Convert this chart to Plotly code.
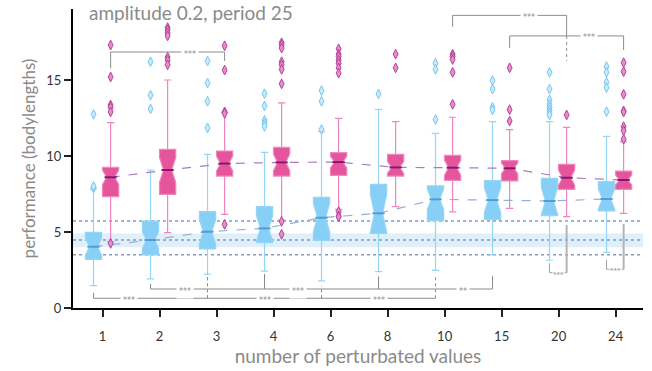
import plotly.graph_objects as go

categories = ["1", "2", "3", "4", "6", "8", "10", "15", "20", "24"]

# blue series (stats)
blue_q1 = [3.20, 3.49, 3.88, 4.30, 4.45, 4.91, 5.75, 5.83, 6.07, 6.38]
blue_med = [4.03, 4.47, 5.02, 5.24, 5.94, 6.23, 7.15, 7.10, 7.04, 7.17]
blue_q3 = [4.98, 5.72, 6.34, 6.67, 7.28, 8.13, 8.03, 8.38, 8.53, 8.31]
blue_lo = [1.47, 1.91, 2.22, 2.43, 1.78, 2.39, 2.48, 3.49, 3.14, 3.66]
blue_hi = [7.80, 9.08, 10.10, 10.24, 11.60, 13.07, 11.49, 12.26, 12.26, 11.29]
blue_notch = [0.58, 0.55, 0.80, 0.85, 0.95, 1.25, 0.68, 0.83, 0.90, 0.66]
blue_out = [
    [12.74, 7.95, 7.9, 8.0],
    [16.2, 14.0, 13.1],
    [16.25, 14.8, 13.6, 11.85],
    [14.1, 13.3, 12.35, 12.15, 11.95],
    [14.3, 13.6, 11.75],
    [14.08],
    [16.1, 15.7, 12.4],
    [14.96, 14.4, 13.2, 13.03],
    [15.5, 14.4, 13.7, 13.4, 13.2, 13.0, 12.85, 12.7],
    [15.88, 15.5, 14.85, 14.5, 12.92],
]

# pink series (stats)
pink_q1 = [7.33, 7.48, 8.68, 8.68, 8.73, 8.68, 8.40, 8.36, 7.81, 7.81]
pink_med = [8.60, 9.08, 9.50, 9.58, 9.60, 9.25, 9.23, 9.19, 8.57, 8.42]
pink_q3 = [9.25, 10.44, 10.33, 10.57, 10.22, 10.10, 10.04, 9.69, 9.45, 9.01]
pink_lo = [4.37, 4.96, 6.16, 5.79, 6.49, 6.67, 6.32, 6.56, 6.01, 6.23]
pink_hi = [12.20, 15.00, 12.87, 13.49, 12.48, 12.26, 12.55, 11.74, 11.88, 10.94]
pink_notch = [0.48, 0.82, 0.49, 0.55, 0.38, 0.40, 0.50, 0.35, 0.50, 0.33]
pink_out = [
    [17.3, 15.2, 13.35, 13.2, 12.9, 4.25],
    [18.45, 18.3, 18.1, 17.9, 16.5, 16.3, 16.0],
    [17.25, 15.65, 12.9, 12.8, 5.5],
    [17.45, 17.3, 17.1, 16.2, 16.0, 15.7, 14.75, 5.7, 4.85],
    [17.05, 16.7, 16.55, 16.3, 16.1, 15.8, 15.45, 6.35, 6.05, 6.0],
    [16.7, 15.8],
    [16.7, 16.55, 16.35, 15.5, 13.4],
    [15.8, 13.05, 12.3],
    [12.7],
    [16.14, 15.55, 14.06, 12.96, 12.9, 11.93, 11.67, 11.1],
]

# reference band / lines
band = [4.0, 4.9]
ref_lines = [3.5, 4.47, 5.72]

# significance brackets: (series, start idx, end idx, level, leg end L, leg end R, label, label frac, dashL, dashR)
brackets = [
    ("pink", 0, 2, 16.84, 15.77, 16.25, "***", 0.70, False, False),
    ("pink", 6, 8, 19.25, 18.5, 17.9, "***", 0.67, False, False),
    ("pink", 7, 9, 17.9, 17.1, 16.97, "***", 0.70, False, False),
    ("blue", 0, 2, 0.64, 1.0, 2.24, "***", 0.31, False, True),
    ("blue", 1, 3, 1.25, 1.58, 2.24, "***", 0.30, False, False),
    ("blue", 2, 4, 0.64, 2.24, 1.45, "***", 0.50, True, True),
    ("blue", 3, 5, 1.25, 2.24, 2.06, "***", 0.29, False, False),
    ("blue", 4, 6, 0.64, 1.45, 2.06, "***", 0.50, True, True),
    ("blue", 5, 7, 1.25, 2.06, 2.12, "**", 0.74, False, False),
]
# extra dashed leg continuation (pink 20 leg of bracket 2)
dashed_leg = ("pink", 8, 17.9, 16.25)
# pairwise blue-vs-pink brackets: (idx, level, blue leg top, pink leg top, label)
pair_brackets = [(8, 2.32, 2.94, 5.46, "***"), (9, 2.54, 3.16, 5.53, "***")]

title_text = "amplitude 0.2, period 25"
x_title = "number of perturbated values"
y_title = "performance (bodylengths)"

OFF = {"blue": -0.16, "pink": 0.14}
BW = 0.285
NOTCHW = 0.25

BLUE_FILL = "#87cff6"
BLUE_LINE = "#95d6f7"
BLUE_MED = "#4f9fd6"
PINK_FILL = "#e4559c"
PINK_LINE = "#ef86bd"
PINK_MED = "#8a1470"
GRAY = "#8c8c8c"
STAR_FONT = "DejaVu Sans"

fig = go.Figure()

idx = list(range(len(categories)))
xb = [i + OFF["blue"] for i in idx]
xp = [i + OFF["pink"] for i in idx]

# trend lines (drawn first, beneath boxes)
fig.add_trace(go.Scatter(x=xb, y=blue_med, mode="lines",
                         line=dict(color="#93b0d6", width=1.2, dash="dash"), hoverinfo="skip"))
fig.add_trace(go.Scatter(x=xp, y=pink_med, mode="lines",
                         line=dict(color="#a97cc2", width=1.2, dash="dash"), hoverinfo="skip"))

# outliers
for xs, outs, fc, lc in [(xb, blue_out, "#c6e9fb", "#7cc6ef"), (xp, pink_out, "#e98cc9", "#b2449b")]:
    ox, oy = [], []
    for i, vals in enumerate(outs):
        for v in vals:
            ox.append(xs[i]); oy.append(v)
    fig.add_trace(go.Scatter(x=ox, y=oy, mode="markers", hoverinfo="skip",
                             marker=dict(symbol="diamond-tall", size=7, color=fc,
                                         line=dict(color=lc, width=1))))

# brackets
def add_seg(xs, ys, color=GRAY, width=1, dash="solid"):
    fig.add_trace(go.Scatter(x=xs, y=ys, mode="lines", hoverinfo="skip",
                             line=dict(color=color, width=width, dash=dash)))

for ser, a, b, lvl, la, lb, lab, frac, dl, dr in brackets:
    x0 = a + OFF[ser]; x1 = b + OFF[ser]
    add_seg([x0, x1], [lvl, lvl])
    add_seg([x0, x0], [lvl, la], dash="dot" if dl else "solid")
    add_seg([x1, x1], [lvl, lb], dash="dot" if dr else "solid")
    fig.add_annotation(x=x0 + frac * (x1 - x0), y=lvl, text=lab, showarrow=False,
                       font=dict(size=8, color=GRAY, family=STAR_FONT), bgcolor="white",
                       borderpad=2, yshift=-2)

ser, i, y0, y1 = dashed_leg
add_seg([i + OFF[ser]] * 2, [y0, y1], dash="dot")

for i, lvl, bt, pt, lab in pair_brackets:
    x0 = i + OFF["blue"]; x1 = i + OFF["pink"]
    add_seg([x0, x1], [lvl, lvl], color="#a0a0a0")
    add_seg([x0, x0], [lvl, bt], color="#a0a0a0")
    add_seg([x1, x1], [lvl, pt], color="#b4b4b4", width=2)
    fig.add_annotation(x=(x0 + x1) / 2, y=lvl, text=lab, showarrow=False,
                       font=dict(size=7, color=GRAY, family=STAR_FONT), bgcolor="white",
                       borderpad=0, yshift=-2)

# boxes
for xs, q1, med, q3, lo, hi, nt, fc, lc in [
    (xb, blue_q1, blue_med, blue_q3, blue_lo, blue_hi, blue_notch, BLUE_FILL, BLUE_LINE),
    (xp, pink_q1, pink_med, pink_q3, pink_lo, pink_hi, pink_notch, PINK_FILL, PINK_LINE),
]:
    fig.add_trace(go.Box(x=xs, q1=q1, median=med, q3=q3, lowerfence=lo, upperfence=hi,
                         notchspan=nt, notched=True, notchwidth=NOTCHW, width=BW,
                         whiskerwidth=0.45, boxpoints=False, fillcolor=fc,
                         line=dict(color=lc, width=1.2), hoverinfo="skip"))

# median lines (shapes above boxes)
shapes = []
half_med = BW / 2 * (1 - NOTCHW)
for xs, med, col in [(xb, blue_med, BLUE_MED), (xp, pink_med, PINK_MED)]:
    for i, m in enumerate(med):
        shapes.append(dict(type="line", xref="x", yref="y", x0=xs[i] - half_med, x1=xs[i] + half_med,
                           y0=m, y1=m, line=dict(color=col, width=2), layer="above"))

shapes.append(dict(type="rect", xref="paper", yref="y", x0=0, x1=1, y0=band[0], y1=band[1],
                   fillcolor="#dff0fb", line=dict(width=0), layer="below"))
for v in ref_lines:
    shapes.append(dict(type="line", xref="paper", yref="y", x0=0, x1=1, y0=v, y1=v,
                       line=dict(color="#7f9bc8", width=1.5, dash="dot"), layer="below"))

fig.add_annotation(xref="paper", yref="paper", x=0.024, y=1.034, xanchor="left", yanchor="top",
                   text=title_text, showarrow=False, font=dict(size=19, color="#8a8a8a"))

font_fam = "Lato, Open Sans, sans-serif"
fig.update_layout(
    width=652, height=371,
    margin=dict(l=73, r=9, t=9, b=63),
    plot_bgcolor="white", paper_bgcolor="white",
    showlegend=False, shapes=shapes,
    font=dict(family=font_fam),
    xaxis=dict(range=[-0.52, 9.48], tickvals=idx, ticktext=categories, showgrid=False, zeroline=False,
               showline=True, linecolor="black", linewidth=2, ticks="outside", ticklen=7, tickwidth=1.5,
               tickcolor="#222", tickfont=dict(size=13, color="#333"), ticklabelstandoff=8,
               automargin=False,
               title=dict(text=x_title, font=dict(size=19, color="#8a8a8a"), standoff=5)),
    yaxis=dict(range=[0, 19.67], tickvals=[0, 5, 10, 15], showgrid=False, zeroline=False,
               showline=True, linecolor="black", linewidth=2, ticks="outside", ticklen=7, tickwidth=1.5,
               tickcolor="#222", tickfont=dict(size=13, color="#333"), automargin=False,
               title=dict(text=y_title, font=dict(size=17, color="#8a8a8a"), standoff=6)),
)

fig.write_html("out.html", config={"displayModeBar": False},
               post_script="document.body.style.margin='0';document.body.style.overflow='hidden';")
